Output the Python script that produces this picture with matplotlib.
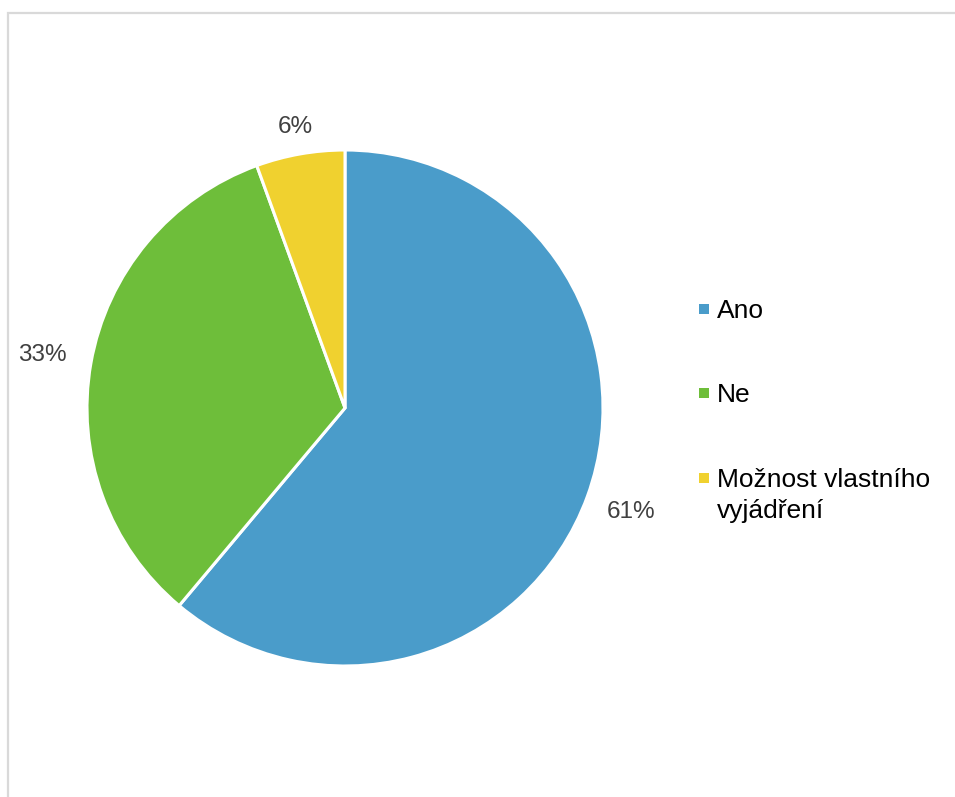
import matplotlib.pyplot as plt
import numpy as np
from matplotlib.patches import Rectangle

# odpovědi respondentů (počty)
labels = ["Ano", "Ne", "Možnost vlastního\nvyjádření"]
counts = [11, 6, 1]
colors = ["#4A9CCA", "#6EBE3A", "#F0D12F"]

plt.rcParams['font.family'] = ['Liberation Sans', 'DejaVu Sans']

W, H = 955, 797
fig = plt.figure(figsize=(W / 100, H / 100), dpi=100)

# světle šedý rámeček kolem grafu
fig.patches.append(Rectangle((8 / W, -0.1), 1.2, (H - 12.5) / H + 0.1,
                             transform=fig.transFigure, fill=False,
                             edgecolor="#d9d9d9", linewidth=1.6))

cx, cy, r = 345, 408, 258
ax = fig.add_axes([(cx - r) / W, (H - cy - r) / H, 2 * r / W, 2 * r / H])
ax.pie(counts, colors=colors, startangle=90, counterclock=False,
       wedgeprops=dict(edgecolor="white", linewidth=2.2))

# procenta mimo výseče
total = sum(counts)
ang = 90.0
dists = [1.18, 1.19, 1.105]
for c, d in zip(counts, dists):
    span = 360.0 * c / total
    mid = np.deg2rad(ang - span / 2)
    ang -= span
    ax.text(d * np.cos(mid), d * np.sin(mid), "%d%%" % round(100 * c / total),
            ha="center", va="center", fontsize=17.5, color="#404040")
ax.set_xlim(-1, 1)
ax.set_ylim(-1, 1)
ax.set_aspect("equal")
ax.axis("off")

# legenda vpravo
ys = [309, 393, 478]
for lab, col, y in zip(labels, colors, ys):
    fig.patches.append(Rectangle((699 / W, (H - y - 5) / H), 10 / W, 10 / H,
                                 transform=fig.transFigure, facecolor=col,
                                 edgecolor="none"))
    fig.text(717 / W, (H - y + 10) / H, lab, fontsize=19, color="black",
             ha="left", va="top", linespacing=1.35)

fig.savefig("out.png", dpi=100)
